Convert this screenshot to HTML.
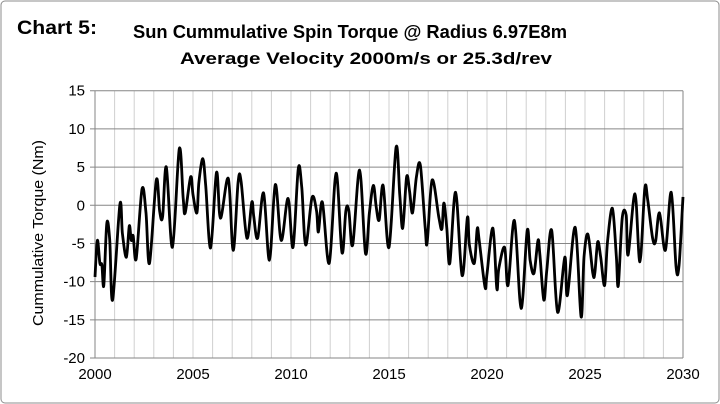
<!DOCTYPE html>
<html><head><meta charset="utf-8"><style>
html,body{margin:0;padding:0;background:#fff;}
svg{display:block;font-family:"Liberation Sans",Arial,sans-serif;}
</style></head><body>
<svg id="chart" width="720" height="404" viewBox="0 0 720 404" xmlns="http://www.w3.org/2000/svg">
<rect x="1" y="1" width="718" height="402" rx="4" fill="#fff" stroke="#8c8c8c" stroke-width="1"/>
<text x="17" y="34" font-size="19" font-weight="bold" fill="#000" textLength="80" lengthAdjust="spacingAndGlyphs">Chart 5:</text>
<text x="350" y="38" font-size="18" font-weight="bold" text-anchor="middle" fill="#000" textLength="434" lengthAdjust="spacingAndGlyphs">Sun Cummulative Spin Torque @ Radius 6.97E8m</text>
<text x="366" y="64" font-size="17" font-weight="bold" text-anchor="middle" fill="#000" textLength="372" lengthAdjust="spacingAndGlyphs">Average Velocity 2000m/s or 25.3d/rev</text>
<text transform="translate(43,233) rotate(-90)" font-size="14.5" text-anchor="middle" fill="#000" textLength="186" lengthAdjust="spacingAndGlyphs">Cummulative Torque (Nm)</text>
<g id="grid"></g>
<g id="ticks"></g>
<g id="series"></g>
</svg>
<script>
const years = [2000.0,2000.12,2000.25,2000.35,2000.45,2000.6,2000.75,2000.9,2001.27,2001.4,2001.6,2001.75,2001.85,2001.95,2002.1,2002.4,2002.6,2002.78,2003.13,2003.3,2003.45,2003.64,2003.95,2004.3,2004.5,2004.6,2004.88,2005.0,2005.2,2005.3,2005.5,2005.65,2005.9,2006.2,2006.4,2006.8,2007.05,2007.3,2007.45,2007.75,2008.0,2008.1,2008.3,2008.6,2008.9,2009.2,2009.5,2009.85,2010.1,2010.37,2010.55,2010.75,2011.07,2011.3,2011.4,2011.6,2011.95,2012.3,2012.6,2012.8,2012.95,2013.15,2013.5,2013.8,2014.0,2014.2,2014.35,2014.5,2014.7,2015.0,2015.36,2015.55,2015.7,2015.9,2016.05,2016.2,2016.4,2016.6,2016.85,2016.95,2017.2,2017.55,2017.7,2017.8,2017.95,2018.1,2018.4,2018.73,2019.0,2019.1,2019.35,2019.5,2019.6,2019.9,2020.0,2020.3,2020.5,2020.6,2020.9,2021.07,2021.4,2021.74,2022.05,2022.2,2022.4,2022.6,2022.7,2022.9,2023.05,2023.3,2023.6,2023.97,2024.1,2024.5,2024.8,2024.95,2025.15,2025.4,2025.5,2025.65,2025.8,2026.0,2026.15,2026.4,2026.6,2026.7,2026.9,2027.1,2027.2,2027.55,2027.8,2028.05,2028.2,2028.45,2028.6,2028.8,2029.1,2029.4,2029.65,2029.8,2030.0];
const torque = [-9.4,-4.6,-7.6,-7.8,-10.5,-2.4,-4.5,-12.4,0.1,-3.7,-6.8,-2.7,-4.6,-4.0,-7.0,2.1,-1.0,-7.6,3.3,-0.8,-1.5,5.0,-5.5,7.4,0.9,-1.0,3.7,1.4,-1.0,3.0,6.1,2.6,-5.6,4.3,-1.7,3.5,-5.9,3.0,3.2,-4.3,0.4,-1.5,-4.3,1.6,-7.2,2.7,-4.6,0.9,-5.5,4.8,2.3,-5.2,1.0,-0.7,-3.5,0.4,-7.6,4.2,-6.2,-0.7,-0.7,-5.2,4.6,-6.3,-1.0,2.6,-0.3,-1.9,2.6,-5.5,7.6,1.3,-3.0,3.7,1.8,-1.0,3.7,5.2,-3.1,-4.8,3.3,-1.7,-3.1,0.3,-3.0,-7.6,1.7,-9.2,-1.6,-5.2,-7.6,-3.1,-4.6,-10.7,-9.0,-3.0,-10.9,-8.3,-5.5,-10.5,-2.0,-13.5,-3.3,-7.2,-8.9,-4.6,-6.5,-12.4,-8.5,-3.3,-14.0,-6.8,-11.8,-2.9,-14.6,-6.8,-3.8,-8.9,-8.9,-4.8,-6.8,-10.5,-4.8,-0.4,-6.8,-10.5,-1.7,-1.3,-6.5,1.5,-7.4,2.2,0.7,-4.3,-4.7,-1.0,-5.9,1.7,-8.1,-7.8,1.1];
const yTicks = [15,10,5,0,-5,-10,-15,-20];
const xTickLabels = [2000,2005,2010,2015,2020,2025,2030];

const X0=95,X1=683,Y0=90.7,Y1=358;
function xs(t){return X0+(t-2000)/30*(X1-X0);}
function ys(v){return Y0+(15-v)/35*(Y1-Y0);}
const NS="http://www.w3.org/2000/svg";
const grid=document.getElementById('grid'),ticks=document.getElementById('ticks'),series=document.getElementById('series');
for(let yr=2000;yr<=2030;yr++){
  const l=document.createElementNS(NS,'line');
  
  
  l.setAttribute('x1',xs(yr));l.setAttribute('x2',xs(yr));l.setAttribute('y1',Y0);l.setAttribute('y2',Y1);
  l.setAttribute('stroke',(yr===2000||yr===2030)?'#868686':'#d0d0d0');l.setAttribute('stroke-width','1');
  grid.appendChild(l);
}
yTicks.forEach(v=>{
  const l=document.createElementNS(NS,'line');
  
  
  l.setAttribute('x1',X0-5);l.setAttribute('x2',X1);l.setAttribute('y1',ys(v));l.setAttribute('y2',ys(v));
  l.setAttribute('stroke','#868686');l.setAttribute('stroke-width','1');
  grid.appendChild(l);
  const t=document.createElementNS(NS,'text');
  
  
  t.setAttribute('x',X0-10);t.setAttribute('y',ys(v)+5);t.setAttribute('text-anchor','end');t.setAttribute('font-size','15');
  t.textContent=v;ticks.appendChild(t);
});
xTickLabels.forEach(yr=>{
  const t=document.createElementNS(NS,'text');
  
  
  t.setAttribute('x',xs(yr));t.setAttribute('y',Y1+21);t.setAttribute('text-anchor','middle');t.setAttribute('font-size','15');
  t.textContent=yr;ticks.appendChild(t);
});
const pts=years.map((t,i)=>[xs(t),ys(torque[i])]);
let d='M'+pts[0][0].toFixed(1)+' '+pts[0][1].toFixed(1);
for(let i=0;i<pts.length-1;i++){
  const p0=pts[Math.max(0,i-1)],p1=pts[i],p2=pts[i+1],p3=pts[Math.min(pts.length-1,i+2)];
  const c1x=p1[0]+(p2[0]-p0[0])/6,c1y=p1[1]+(p2[1]-p0[1])/6;
  const c2x=p2[0]-(p3[0]-p1[0])/6,c2y=p2[1]-(p3[1]-p1[1])/6;
  d+='C'+c1x.toFixed(1)+' '+c1y.toFixed(1)+' '+c2x.toFixed(1)+' '+c2y.toFixed(1)+' '+p2[0].toFixed(1)+' '+p2[1].toFixed(1);
}
const p=document.createElementNS(NS,'path');


p.setAttribute('d',d);p.setAttribute('fill','none');p.setAttribute('stroke','#000');p.setAttribute('stroke-width','2.8');p.setAttribute('stroke-linejoin','round');
series.appendChild(p);
</script>
</body></html>
